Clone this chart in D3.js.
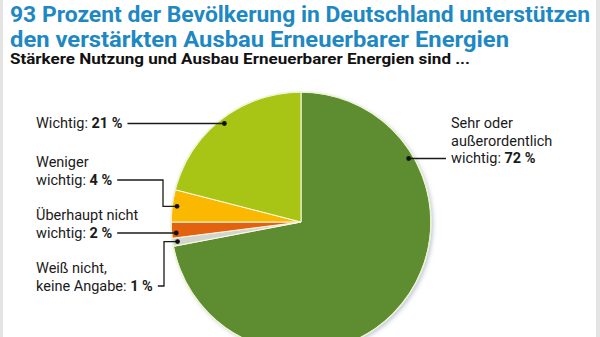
<!DOCTYPE html>
<html><head><meta charset="utf-8">
<script src="https://cdn.jsdelivr.net/npm/d3@7"></script>
<style>
html,body{margin:0;padding:0;background:#fff;}
svg{display:block;}
text{font-family:Roboto,"Noto Sans",sans-serif;}
</style></head>
<body>
<script>
// ---- data ----
const titleLines = ["93 Prozent der Bevölkerung in Deutschland unterstützen", "den verstärkten Ausbau Erneuerbarer Energien"];
const subtitle = "Stärkere Nutzung und Ausbau Erneuerbarer Energien sind ...";
const categories = ["Sehr oder außerordentlich wichtig", "Weiß nicht, keine Angabe", "Überhaupt nicht wichtig", "Weniger wichtig", "Wichtig"];
const values = [72, 1, 2, 4, 21];
const colors = ["#5d8c31", "#d3d4cc", "#e2620f", "#fab800", "#a8c414"];
const labelLines = [
  [["Sehr oder"], ["außerordentlich"], ["wichtig: ", "72 %"]],
  [["Weiß nicht,"], ["keine Angabe: ", "1 %"]],
  [["Überhaupt nicht"], ["wichtig: ", "2 %"]],
  [["Weniger"], ["wichtig: ", "4 %"]],
  [["Wichtig: ", "21 %"]]
];

// ---- layout ----
const W = 600, H = 337;
const cx = 301, cy = 222, R = 130;
const svg = d3.select("body").append("svg").attr("width", W).attr("height", H);

// frame strips
svg.append("rect").attr("x", 0).attr("y", 0).attr("width", 3).attr("height", H).attr("fill", "#e4e4e4");
svg.append("rect").attr("x", 596).attr("y", 0).attr("width", 4).attr("height", H).attr("fill", "#e4e4e4");

// titles
const titleWidths = [580, 499];
titleLines.forEach((t, i) => {
  svg.append("text").attr("x", 10).attr("y", 22 + i * 25)
    .attr("font-size", 22).attr("font-weight", 700).attr("fill", "#1e88c3")
    .attr("textLength", titleWidths[i]).attr("lengthAdjust", "spacingAndGlyphs")
    .text(t);
});
svg.append("text").attr("x", 10).attr("y", 64)
  .attr("font-size", 14.5).attr("font-weight", 700).attr("fill", "#111")
  .attr("textLength", 460).attr("lengthAdjust", "spacingAndGlyphs")
  .text(subtitle);

// shadow filter
const defs = svg.append("defs");
const f = defs.append("filter").attr("id", "sh").attr("x", "-20%").attr("y", "-20%").attr("width", "140%").attr("height", "140%");
f.append("feDropShadow").attr("dx", 2).attr("dy", 2).attr("stdDeviation", 2)
  .attr("flood-color", "#6a7aa8").attr("flood-opacity", 0.45);

const pie = d3.pie().sort(null).value(d => d);
const arcs = pie(values);
const arc = d3.arc().innerRadius(0).outerRadius(R);
const g = svg.append("g").attr("transform", `translate(${cx},${cy})`);

g.append("circle").attr("r", R).attr("fill", "#f2f5dc").attr("filter", "url(#sh)");
g.selectAll("path.slice").data(arcs).enter().append("path")
  .attr("class", "slice")
  .attr("d", arc)
  .attr("fill", (d, i) => colors[i])
  .attr("stroke", "#fbfbe6").attr("stroke-width", 1);
g.append("circle").attr("r", R).attr("fill", "none").attr("stroke", "#eef3cf").attr("stroke-width", 1.5);

// labels & leaders
const dotR = R - 5;
function polar(a, r) { return [cx + r * Math.sin(a), cy - r * Math.cos(a)]; }
const midA = d => (d.startAngle + d.endAngle) / 2;

// config per slice: text x, first baseline, leader y, elbow x (null = straight), anchor angle mode
const lh = 17.5;
const cfg = [
  {tx: 451, by: 128, side: "right", lineIdx: 2},
  {tx: 36, by: 273, side: "left", lineIdx: 1, elbow: 164},
  {tx: 36, by: 220, side: "left", lineIdx: 1},
  {tx: 36, by: 167, side: "left", lineIdx: 1, elbow: 163},
  {tx: 36, by: 128, side: "left", lineIdx: 0}
];
const ink = "#1a1a1a";
arcs.forEach((d, i) => {
  const c = cfg[i];
  const tg = svg.append("g");
  let endX = c.tx;
  labelLines[i].forEach((parts, j) => {
    const t = tg.append("text").attr("x", c.tx).attr("y", c.by + j * lh)
      .attr("font-size", 14.5).attr("fill", ink);
    t.append("tspan").text(parts[0]);
    if (parts[1]) t.append("tspan").attr("font-weight", 700).text(parts[1]);
    if (j === c.lineIdx) endX = c.tx + t.node().getComputedTextLength();
  });
  const ly = c.by + c.lineIdx * lh - 4.5;
  let dot;
  if (c.side === "right") {
    // dot on green slice at the height of the leader line
    const a = Math.acos(-(ly - cy) / dotR);
    dot = polar(a, dotR);
    svg.append("path").attr("d", `M${dot[0]},${ly}H${c.tx - 5}`)
      .attr("stroke", ink).attr("stroke-width", 1.3).attr("fill", "none");
    dot = [dot[0], ly];
  } else {
    dot = polar(midA(d), dotR);
    let p;
    if (c.elbow) p = `M${endX + 5},${ly}H${c.elbow}V${dot[1]}H${dot[0]}`;
    else p = `M${endX + 5},${ly}H${dot[0]}V${dot[1]}`;
    if (!c.elbow) { dot = [dot[0], ly]; p = `M${endX + 5},${ly}H${dot[0]}`; }
    svg.append("path").attr("d", p).attr("stroke", ink).attr("stroke-width", 1.3).attr("fill", "none");
  }
  svg.append("circle").attr("cx", dot[0]).attr("cy", dot[1]).attr("r", 2.4).attr("fill", "#111");
});
</script>
</body></html>
